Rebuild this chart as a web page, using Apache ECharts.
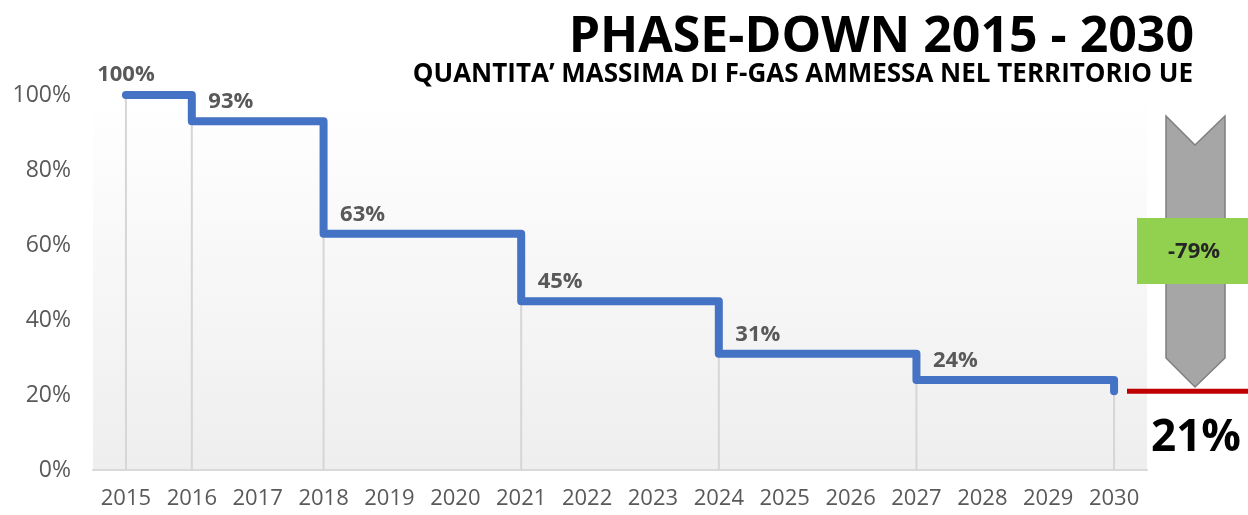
<!DOCTYPE html>
<html>
<head>
<meta charset="utf-8">
<script src="https://cdn.jsdelivr.net/npm/echarts@6/dist/echarts.min.js"></script>
<style>
  html, body { margin: 0; padding: 0; background: #fff; }
  #chart { width: 1248px; height: 515px; }
</style>
</head>
<body>
<div id="chart"></div>
<script>
// anni e quota ammessa (%)
var years = ['2015', '2016', '2017', '2018', '2019', '2020', '2021', '2022',
             '2023', '2024', '2025', '2026', '2027', '2028', '2029', '2030'];
var quota = [100, 93, 93, 63, 63, 63, 45, 45, 45, 31, 31, 31, 24, 24, 24, 21];
// anni in cui cambia la quota -> etichetta + linea verticale
var changeYears = ['2015', '2016', '2018', '2021', '2024', '2027', '2030'];
var labelYears = ['2015', '2016', '2018', '2021', '2024', '2027'];
var finalValue = 21;
var reduction = '-79%';

var myChart = echarts.init(document.getElementById('chart'));

var lineData = quota.map(function (v, i) {
    var y = years[i];
    if (labelYears.indexOf(y) < 0) return v;
    return {
        value: v,
        label: {
            show: true,
            position: 'top',
            offset: y === '2015' ? [0, -4] : [39, -3]
        }
    };
});
var dropData = quota.map(function (v, i) {
    return changeYears.indexOf(years[i]) >= 0 ? v : '-';
});

var font = 'Open Sans';
var option = {
    animation: false,
    title: [{
        text: 'PHASE-DOWN 2015 - 2030',
        right: 49, top: 8,
        textStyle: { fontFamily: font, fontSize: 50, fontWeight: 'bold', color: '#000' }
    }, {
        text: 'QUANTITA\u2019 MASSIMA DI F-GAS AMMESSA NEL TERRITORIO UE',
        right: 50, top: 57,
        textStyle: { fontFamily: font, fontSize: 26, fontWeight: 'bold', color: '#000' }
    }],
    grid: {
        left: 93, right: 101, top: 95, bottom: 45,
        show: true, borderWidth: 0,
        backgroundColor: new echarts.graphic.LinearGradient(0, 0, 0, 1, [
            { offset: 0, color: '#ffffff' },
            { offset: 1, color: '#eeeeee' }
        ])
    },
    xAxis: {
        type: 'category',
        data: years,
        boundaryGap: true,
        axisLine: { lineStyle: { color: '#d9d9d9', width: 2 } },
        axisTick: { show: false },
        axisLabel: { fontFamily: font, fontSize: 22, color: '#595959', margin: 18,
            interval: 0 }
    },
    yAxis: {
        type: 'value',
        min: 0, max: 100, interval: 20,
        splitLine: { show: false },
        axisLine: { show: false },
        axisTick: { show: false },
        axisLabel: { fontFamily: font, fontSize: 23, color: '#595959', margin: 22,
            formatter: '{value}%' }
    },
    series: [{
        type: 'bar',
        data: dropData,
        barWidth: 2,
        itemStyle: { color: '#d6d6d6' },
        silent: true
    }, {
        type: 'line',
        data: lineData,
        step: 'end',
        symbol: 'circle',
        symbolSize: 1,
        showSymbol: true,
        itemStyle: { color: 'rgba(0,0,0,0)' },
        clip: false,
        lineStyle: { color: '#4472c4', width: 8, cap: 'round', join: 'round' },
        label: {
            fontFamily: font, fontSize: 22, fontWeight: 'bold', color: '#595959',
            formatter: '{c}%'
        },
        z: 3
    }]
};
myChart.setOption(option);

// decorazioni a destra: linea rossa al 21%, freccia, riquadro verde
var yFinal = myChart.convertToPixel({ yAxisIndex: 0 }, finalValue);
var cx = 1195;
myChart.setOption({
    graphic: [{
        type: 'polygon',
        shape: { points: [[1166, 116], [cx, 145], [1225, 116], [1225, 358], [cx, 387], [1166, 358]] },
        style: { fill: '#a6a6a6', stroke: '#7f7f7f', lineWidth: 1.5 }
    }, {
        type: 'rect',
        shape: { x: 1137, y: 218, width: 111, height: 66 },
        style: { fill: '#92d050' }
    }, {
        type: 'text',
        x: 1194, y: 252,
        style: { text: reduction, fontFamily: font, fontSize: 22, fontWeight: 'bold',
            fill: '#262626', align: 'center', verticalAlign: 'middle' }
    }, {
        type: 'line',
        shape: { x1: 1127, y1: yFinal, x2: 1248, y2: yFinal },
        style: { stroke: '#c00000', lineWidth: 5 }
    }, {
        type: 'text',
        x: 1196, y: 438,
        style: { text: finalValue + '%', fontFamily: font, fontSize: 44, fontWeight: 'bold',
            fill: '#000', align: 'center', verticalAlign: 'middle' }
    }]
});
</script>
</body>
</html>
